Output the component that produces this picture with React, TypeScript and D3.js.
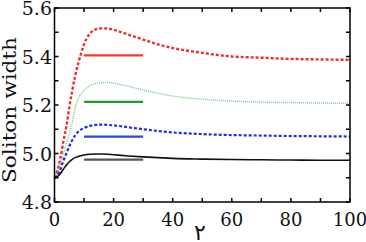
import React from "react";
import * as d3 from "d3";

// Time samples shared by every series
const times = [0, 1, 2, 3, 4, 5, 6, 7, 8, 10, 12, 14, 16, 18, 20, 25, 30, 35, 40, 50, 60, 70, 80, 90, 100];

const redWidth = [4.9, 4.93, 4.98, 5.05, 5.11, 5.19, 5.26, 5.32, 5.37, 5.45, 5.495, 5.512, 5.516, 5.515, 5.51, 5.49, 5.47, 5.45, 5.435, 5.415, 5.4, 5.395, 5.39, 5.388, 5.386];
const greenWidth = [4.9, 4.92, 4.955, 5.0, 5.04, 5.08, 5.13, 5.19, 5.225, 5.26, 5.28, 5.289, 5.292, 5.293, 5.29, 5.277, 5.262, 5.248, 5.237, 5.224, 5.216, 5.212, 5.21, 5.208, 5.207];
const blueWidth = [4.9, 4.91, 4.935, 4.97, 5.0, 5.03, 5.055, 5.075, 5.09, 5.105, 5.114, 5.118, 5.119, 5.118, 5.116, 5.108, 5.1, 5.093, 5.087, 5.08, 5.076, 5.074, 5.072, 5.071, 5.07];
const blackWidth = [4.9, 4.905, 4.918, 4.935, 4.952, 4.966, 4.976, 4.983, 4.988, 4.994, 4.997, 4.998, 4.998, 4.997, 4.995, 4.99, 4.986, 4.983, 4.98, 4.977, 4.975, 4.974, 4.973, 4.972, 4.972];

// Short horizontal reference levels, drawn from t = 10 to t = 30
const levelSpan = [10, 30];
const levelValues = [5.405, 5.213, 5.07, 4.975];
const levelColors = ["#f03a2e", "#229a2a", "#2a46e6", "#555555"];

const xTicks = [0, 20, 40, 60, 80, 100];
const xMinorTicks = [0, 10, 20, 30, 40, 50, 60, 70, 80, 90, 100];
const yTicks = [4.8, 5.0, 5.2, 5.4, 5.6];
const yMinorTicks = [4.8, 4.9, 5.0, 5.1, 5.2, 5.3, 5.4, 5.5, 5.6];

const W = 366;
const H = 242;
const left = 54.5;
const right = 350;
const top = 8;
const bottom = 202;

export default function App() {
  const x = d3.scaleLinear().domain([0, 100]).range([left, right]);
  const y = d3.scaleLinear().domain([4.8, 5.6]).range([bottom, top]);
  const line = d3
    .line<number>()
    .x((_, i) => x(times[i]))
    .y((v) => y(v))
    .curve(d3.curveMonotoneX);

  const series = [
    { values: redWidth, color: "#e8302a", width: 2.4, dash: "3,2" },
    { values: greenWidth, color: "#8cc88c", width: 1.5, dash: "1,1" },
    { values: blueWidth, color: "#2030d8", width: 2.2, dash: "3,2" },
    { values: blackWidth, color: "#111111", width: 1.6, dash: undefined as string | undefined },
  ];

  const font = "'DejaVu Serif', serif";
  const tickLen = 4;

  return (
    <svg
      width={W}
      height={H}
      style={{ position: "absolute", left: 0, top: 0, background: "#fff" }}
    >
      {/* curves */}
      {series.map((s, i) => (
        <path
          key={"s" + i}
          d={line(s.values) || ""}
          fill="none"
          stroke={s.color}
          strokeWidth={s.width}
          strokeDasharray={s.dash}
        />
      ))}

      {/* reference levels */}
      {levelValues.map((v, i) => (
        <line
          key={"l" + i}
          x1={x(levelSpan[0])}
          x2={x(levelSpan[1])}
          y1={y(v)}
          y2={y(v)}
          stroke={levelColors[i]}
          strokeWidth={2.2}
        />
      ))}

      {/* frame */}
      <rect
        x={left}
        y={top}
        width={right - left}
        height={bottom - top}
        fill="none"
        stroke="#000"
        strokeWidth={1.5}
      />

      {/* inward ticks on all four sides */}
      {xMinorTicks.map((t) => (
        <g key={"xt" + t}>
          <line x1={x(t)} x2={x(t)} y1={bottom} y2={bottom - tickLen} stroke="#000" strokeWidth={1.5} />
          <line x1={x(t)} x2={x(t)} y1={top} y2={top + tickLen} stroke="#000" strokeWidth={1.5} />
        </g>
      ))}
      {yMinorTicks.map((t) => (
        <g key={"yt" + t}>
          <line x1={left} x2={left + tickLen} y1={y(t)} y2={y(t)} stroke="#000" strokeWidth={1.5} />
          <line x1={right} x2={right - tickLen} y1={y(t)} y2={y(t)} stroke="#000" strokeWidth={1.5} />
        </g>
      ))}

      {/* tick labels */}
      {xTicks.map((t) => (
        <text
          key={"xl" + t}
          x={x(t)}
          y={226}
          textAnchor="middle"
          style={{ fontFamily: font, fontSize: 18 }}
          fill="#111"
        >
          {t}
        </text>
      ))}
      {yTicks.map((t) => (
        <text
          key={"yl" + t}
          x={52}
          y={y(t) + 7}
          textAnchor="end"
          style={{ fontFamily: font, fontSize: 19 }}
          fill="#111"
        >
          {t.toFixed(1)}
        </text>
      ))}

      {/* axis titles */}
      <text
        transform={`translate(16, 110) rotate(-90)`}
        textAnchor="middle"
        style={{ fontFamily: font, fontSize: 18 }}
        textLength={146}
        lengthAdjust="spacingAndGlyphs"
        fill="#111"
      >
        Soliton width
      </text>
      <text
        x={200}
        y={240}
        textAnchor="middle"
        style={{ fontFamily: font, fontSize: 22 }}
        fill="#111"
      >
        ٢
      </text>
    </svg>
  );
}
